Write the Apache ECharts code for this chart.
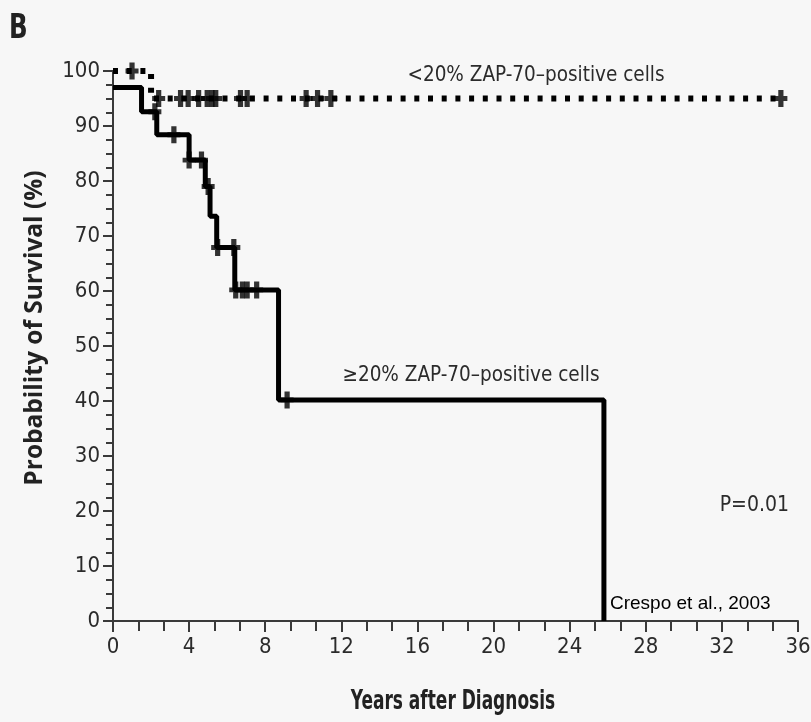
<!DOCTYPE html>
<html>
<head>
<meta charset="utf-8">
<script src="https://cdn.jsdelivr.net/npm/echarts@6/dist/echarts.min.js"></script>
<style>
  html, body { margin: 0; padding: 0; background: #f7f7f7; }
  #chart { width: 811px; height: 722px; }
</style>
</head>
<body>
<div id="chart"></div>
<script>
// >=20% ZAP-70 group (solid): event times (years) and survival after each step (%)
const highTimes = [0, 1.5, 2.3, 4.0, 4.85, 5.1, 5.45, 6.4, 8.7, 25.8];
const highSurv = [97, 92.6, 88.4, 83.8, 79.0, 73.6, 67.9, 60.2, 40.2, 0];
// censored patients (+ marks) on the solid curve
const highCensorTimes = [2.2, 3.2, 4.0, 4.65, 5.0, 5.5, 6.35, 6.45, 6.8, 7.05, 7.55, 9.15];
const highCensorSurv = [92.6, 88.4, 83.8, 83.8, 79.0, 67.9, 67.9, 60.2, 60.2, 60.2, 60.2, 40.2];

// <20% ZAP-70 group (dotted)
const lowTimes = [0, 2.0, 35.1];
const lowSurv = [100, 95, 95];
const lowCensorTimes = [1.0, 2.4, 3.55, 3.95, 4.5, 4.95, 5.2, 5.4, 6.7, 7.05, 10.15, 10.75, 11.45, 35.1];
const lowCensorSurv = [100, 95, 95, 95, 95, 95, 95, 95, 95, 95, 95, 95, 95, 95];

const xTicks = { min: 0, max: 36, interval: 4 };
const yTicks = { min: 0, max: 100, interval: 10 };

const pair = (xs, ys) => xs.map((x, i) => [x, ys[i]]);
// censor mark: thick plus
const plus = 'path://M3,0 H7 V5 H10 V9 H7 V14 H3 V9 H0 V5 H3 Z';
const narrow = "'Liberation Sans Narrow', 'DejaVu Sans Condensed', sans-serif";
const ink = '#2b2b2b';

const myChart = echarts.init(document.getElementById('chart'));
myChart.setOption({
  backgroundColor: '#f7f7f7',
  animation: false,
  grid: { left: 113, right: 13, top: 71, bottom: 101, containLabel: false, outerBoundsMode: 'none' },
  xAxis: {
    type: 'value',
    min: xTicks.min, max: xTicks.max, interval: xTicks.interval,
    axisLine: { lineStyle: { color: '#3a3a3a', width: 2 } },
    axisTick: { length: 11, lineStyle: { color: '#3a3a3a', width: 2 } },
    minorTick: { show: true, splitNumber: 3, length: 10, lineStyle: { color: '#3a3a3a', width: 2 } },
    axisLabel: { margin: 15, fontFamily: narrow, fontSize: 22, color: ink },
    splitLine: { show: false }
  },
  yAxis: {
    type: 'value',
    min: yTicks.min, max: yTicks.max, interval: yTicks.interval,
    axisLine: { show: true, lineStyle: { color: '#3a3a3a', width: 2 } },
    axisTick: { show: true, length: 10, lineStyle: { color: '#3a3a3a', width: 2 } },
    minorTick: { show: true, splitNumber: 4, length: 7, lineStyle: { color: '#3a3a3a', width: 2 } },
    axisLabel: { margin: 13, fontFamily: narrow, fontSize: 22, color: ink },
    splitLine: { show: false }
  },
  series: [
    {
      type: 'line', step: 'end', showSymbol: false,
      data: pair(lowTimes, lowSurv),
      lineStyle: { color: '#000', width: 6, type: [5, 8.7], cap: 'butt' },
      z: 2
    },
    {
      type: 'scatter', symbol: plus, symbolSize: [13, 17],
      data: pair(lowCensorTimes, lowCensorSurv),
      itemStyle: { color: '#000' },
      z: 3
    },
    {
      type: 'line', step: 'end', showSymbol: false,
      data: pair(highTimes, highSurv),
      lineStyle: { color: '#000', width: 5 },
      z: 2
    },
    {
      type: 'scatter', symbol: plus, symbolSize: [13, 17],
      data: pair(highCensorTimes, highCensorSurv),
      itemStyle: { color: '#000' },
      z: 3
    }
  ],
  graphic: [
    { type: 'text', x: 9, y: 12, scaleX: 0.8, style: { text: 'B', fontFamily: narrow, fontWeight: 'bold', fontSize: 34, fill: '#222', verticalAlign: 'top' } },
    { type: 'text', x: 35, y: 328, rotation: Math.PI / 2, style: { text: 'Probability of Survival (%)', fontFamily: "'Open Sans', sans-serif", fontWeight: 'bold', fontSize: 24.5, fill: '#222', align: 'center', verticalAlign: 'middle' } },
    { type: 'text', x: 453, y: 702, scaleX: 0.7, style: { text: 'Years after Diagnosis', fontFamily: narrow, fontWeight: 'bold', fontSize: 27, fill: '#222', align: 'center', verticalAlign: 'middle' } },
    { type: 'text', x: 536, y: 76, style: { text: '<20% ZAP-70–positive cells', fontFamily: narrow, fontSize: 20.5, fill: ink, align: 'center', verticalAlign: 'middle' } },
    { type: 'text', x: 471, y: 376, style: { text: '≥20% ZAP-70–positive cells', fontFamily: narrow, fontSize: 20.5, fill: ink, align: 'center', verticalAlign: 'middle' } },
    { type: 'text', x: 789, y: 506, style: { text: 'P=0.01', fontFamily: narrow, fontSize: 21, fill: ink, align: 'right', verticalAlign: 'middle' } },
    { type: 'text', x: 610, y: 604, style: { text: 'Crespo et al., 2003', fontFamily: "'Liberation Sans', Arial, sans-serif", fontSize: 19, fill: '#000', align: 'left', verticalAlign: 'middle' } }
  ]
});
</script>
</body>
</html>
